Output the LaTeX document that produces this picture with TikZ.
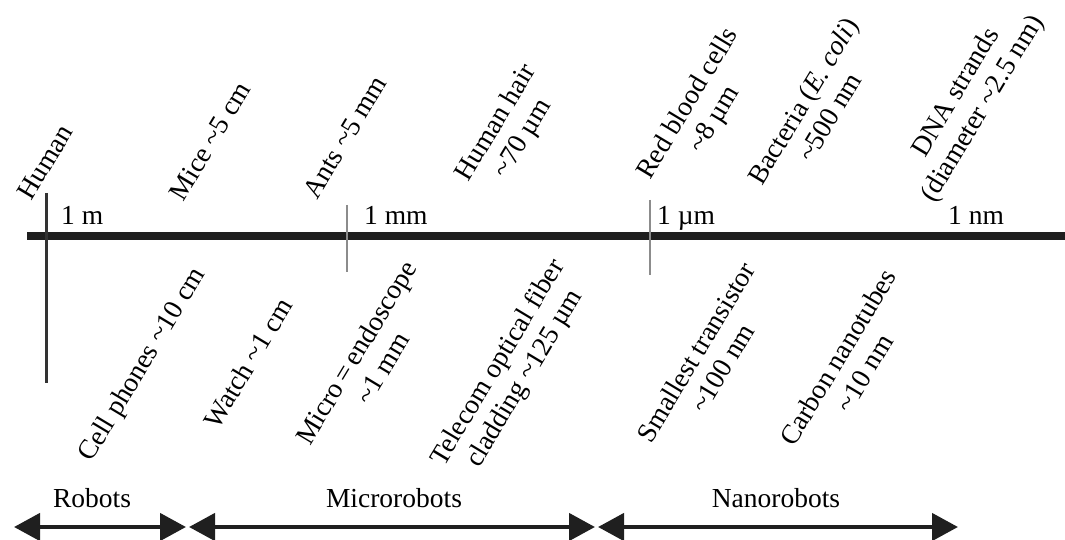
\documentclass[tikz,border=0pt]{standalone}
\usepackage{fontspec}
\setmainfont{Liberation Serif}
\usetikzlibrary{arrows.meta}
\begin{document}
\begin{tikzpicture}[x=1pt,y=-1pt,
  txt/.style={font=\fontsize{27.5}{31}\selectfont, inner sep=0pt},
  lbl/.style={txt, rotate=59, align=center, anchor=center},
  axisline/.style={line width=8pt, color=black!88},
  bigtick/.style={line width=3pt, color=black!80},
  smalltick/.style={line width=2pt, color=black!45},
  rangearrow/.style={line width=4.5pt, color=black!88, {Triangle[length=26pt,width=27pt]}-{Triangle[length=26pt,width=27pt]}}]
\useasboundingbox (0,0) rectangle (1065,540);
% axis
\coordinate (axL) at (27,236);
\coordinate (axR) at (1065,236);
\draw[axisline] (axL) -- (axR);
% ticks
\coordinate (tmT) at (46,193);  \coordinate (tmB) at (46,383);
\coordinate (tmmT) at (347,205); \coordinate (tmmB) at (347,272);
\coordinate (tumT) at (650,200); \coordinate (tumB) at (650,275);
\draw[bigtick] (tmT) -- (tmB);
\draw[smalltick] (tmmT) -- (tmmB);
\draw[smalltick] (tumT) -- (tumB);
% unit labels
\node[txt, anchor=base west] (um1) at (61,224) {1 m};
\node[txt, anchor=base west] (umm) at (364,224) {1 mm};
\node[txt, anchor=base west] (uum) at (657,224) {1 µm};
\node[txt, anchor=base west] (unm) at (948,224) {1 nm};
% upper labels
\node[lbl] (human) at (45,162) {Human};
\node[lbl] (mice) at (210,141) {Mice \textasciitilde5 cm};
\node[lbl] (ants) at (345,137) {Ants \textasciitilde5 mm};
\node[lbl] (hair) at (510,131) {Human hair\\\textasciitilde70 µm};
\node[lbl] (rbc) at (702,112) {Red blood cells\\\textasciitilde8 µm};
\node[lbl] (bact) at (816,109) {Bacteria (\textit{E. coli})\\\textasciitilde500 nm};
\node[lbl] (dna) at (970,101) {DNA strands\\(diameter \textasciitilde2.5 nm)};
% lower labels
\node[lbl] (cell) at (143,365) {Cell phones \textasciitilde10 cm};
\node[lbl] (watch) at (248,363) {Watch \textasciitilde1 cm};
\node[lbl] (endo) at (369,360) {Micro\,=\,endoscope\\\textasciitilde1 mm};
\node[lbl] (fiber) at (512,371) {Telecom optical fiber\\cladding \textasciitilde125 µm};
\node[lbl] (trans) at (709,360) {Smallest transistor\\\textasciitilde100 nm};
\node[lbl] (cnt) at (851,365) {Carbon nanotubes\\\textasciitilde10 nm};
% ranges
\node[txt, anchor=base] (robots) at (92,507) {Robots};
\node[txt, anchor=base] (micro) at (394,507) {Microrobots};
\node[txt, anchor=base] (nano) at (776,507) {Nanorobots};
\coordinate (r1) at (14,527); \coordinate (r2) at (186,527);
\coordinate (m1) at (189,527); \coordinate (m2) at (595,527);
\coordinate (n1) at (598,527); \coordinate (n2) at (958,527);
\draw[rangearrow] (r1) -- (r2);
\draw[rangearrow] (m1) -- (m2);
\draw[rangearrow] (n1) -- (n2);
\end{tikzpicture}
\end{document}
